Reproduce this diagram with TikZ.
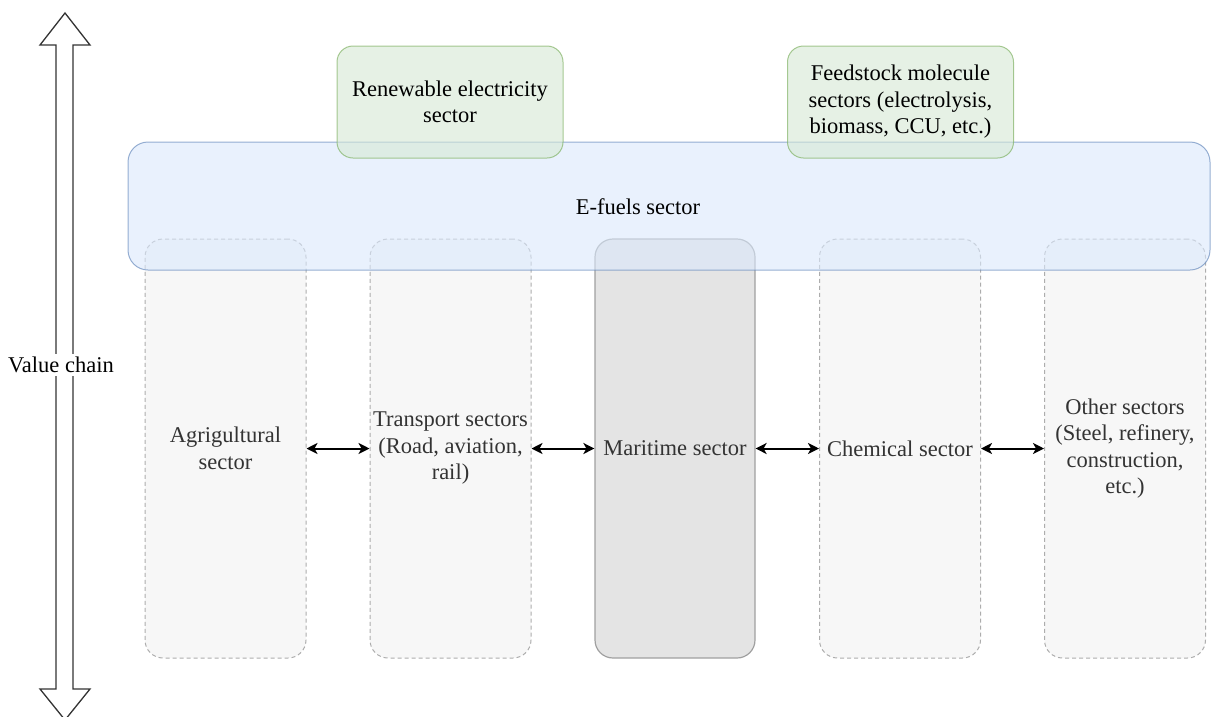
\documentclass[tikz,border=0pt]{standalone}
\usepackage{fontspec}
\setmainfont{Liberation Serif}
\usetikzlibrary{arrows.meta}
\definecolor{grnfill}{HTML}{D5E8D4}
\definecolor{grnline}{HTML}{82B366}
\definecolor{blufill}{HTML}{DAE8FC}
\definecolor{bluline}{HTML}{6C8EBF}
\definecolor{colfill}{HTML}{F7F7F7}
\definecolor{colline}{HTML}{ADADAD}
\definecolor{marfill}{HTML}{E4E4E4}
\definecolor{marline}{HTML}{A0A0A0}
\definecolor{txtgray}{HTML}{333333}
\tikzset{
  every node/.style={font=\fontsize{22.5}{26.5}\selectfont, align=center, inner sep=0pt},
  colbox/.style={draw=colline, dashed, dash pattern=on 4pt off 3pt, fill=colfill, rounded corners=18pt,
    minimum width=161pt, minimum height=419pt, text=txtgray, line width=1pt},
  marbox/.style={draw=marline, fill=marfill, rounded corners=18pt,
    minimum width=160pt, minimum height=419pt, text=txtgray, line width=1.2pt},
  bluebox/.style={draw=bluline, fill=blufill, fill opacity=0.6, draw opacity=0.7, text opacity=1,
    rounded corners=20pt, minimum width=1082pt, minimum height=128pt, line width=1pt},
  greenbox/.style={draw=grnline, fill=grnfill, fill opacity=0.6, draw opacity=0.7, text opacity=1,
    rounded corners=16pt, minimum width=226pt, minimum height=112pt, line width=1pt},
  link/.style={{Stealth[length=11pt,width=11pt,inset=3pt]}-{Stealth[length=11pt,width=11pt,inset=3pt]}, line width=2pt, black},
  bigarrow/.style={draw=black!80, line width=1.3pt, fill=white}
}
\begin{document}
\begin{tikzpicture}[x=1pt,y=-1pt]
\useasboundingbox (0,0) rectangle (1211,716);
% value chain arrow
\draw[bigarrow] (65,13) -- (90,45) -- (73,45) -- (73,689) -- (90,689) -- (65,720)
  -- (40,689) -- (56,689) -- (56,45) -- (40,45) -- cycle;
\node[fill=white, inner sep=3pt] (vc) at (61,365) {Value chain};
% columns
\node[colbox] (agr) at (225.5,448.5) {Agrigultural\\sector};
\node[colbox] (tra) at (450.5,448.5) {Transport sectors\\(Road, aviation,\\rail)};
\node[marbox] (mar) at (675,448.5) {Maritime sector};
\node[colbox] (che) at (900,448.5) {Chemical sector};
\node[colbox] (oth) at (1125,448.5) {Other sectors\\(Steel, refinery,\\construction,\\etc.)};
% e-fuels
\node[bluebox] (efu) at (669,206) {};
\node (efut) at (638,207) {E-fuels sector};
% green boxes
\node[greenbox] (ren) at (450,102) {Renewable electricity\\sector};
\node[greenbox] (fee) at (900.5,102) {Feedstock molecule\\sectors (electrolysis,\\biomass, CCU, etc.)};
% links
\draw[link] (agr.east) -- (tra.west);
\draw[link] (tra.east) -- (mar.west);
\draw[link] (mar.east) -- (che.west);
\draw[link] (che.east) -- (oth.west);
\end{tikzpicture}
\end{document}
